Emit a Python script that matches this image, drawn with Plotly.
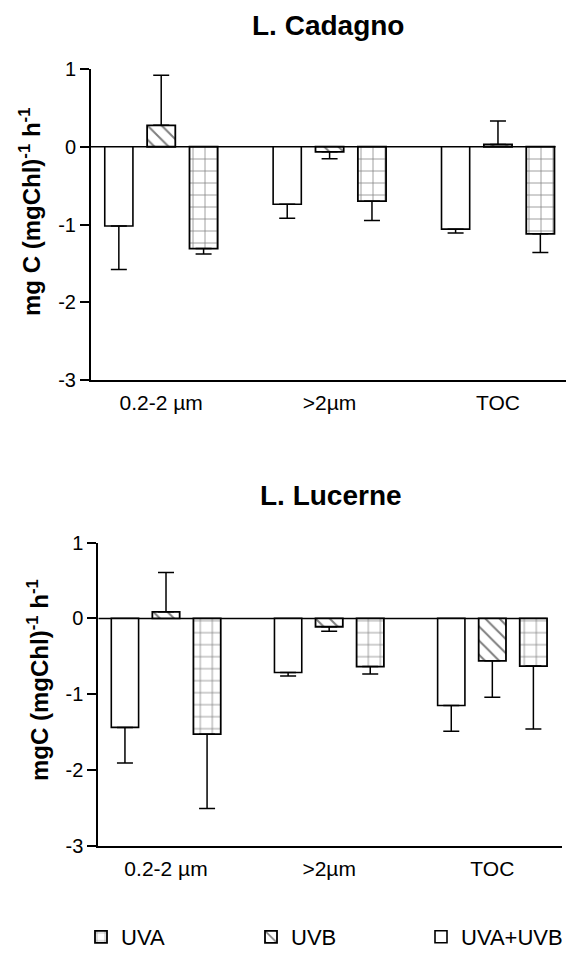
import plotly.graph_objects as go

# ---------------- data ----------------
categories = ["0.2-2 µm", ">2µm", "TOC"]
series_names = ["UVA+UVB", "UVB", "UVA"]

# L. Cadagno
cad_uvab = [-1.02, -0.74, -1.06]
cad_uvab_err = [0.56, 0.18, 0.05]
cad_uvb = [0.275, -0.065, 0.03]
cad_uvb_err = [0.645, 0.09, 0.30]
cad_uva = [-1.31, -0.70, -1.12]
cad_uva_err = [0.07, 0.25, 0.24]

# L. Lucerne
luc_uvab = [-1.44, -0.715, -1.15]
luc_uvab_err = [0.47, 0.045, 0.34]
luc_uvb = [0.087, -0.11, -0.56]
luc_uvb_err = [0.52, 0.06, 0.48]
luc_uva = [-1.53, -0.636, -0.63]
luc_uva_err = [0.98, 0.10, 0.83]

ytick_vals = [1, 0, -1, -2, -3]
ytick_text = ["1", "0", "-1", "-2", "-3"]

panel_titles = ["L. Cadagno", "L. Lucerne"]
y_titles = ["mg C (mgChl)<sup>-1</sup> h<sup>-1</sup>",
            "mgC (mgChl)<sup>-1</sup> h<sup>-1</sup>"]

# ---------------- geometry helpers (page has an 8px body margin) ----------------
W, H, OFF = 576, 953, 8


def px(x):
    return (x - OFF) / W


def py(y):
    return 1 - (y - OFF) / H


# ---------------- styles ----------------
FONT = "Liberation Sans, Arial, sans-serif"
styles = {
    "UVA+UVB": dict(color="white", line=dict(color="black", width=1.6)),
    "UVB": dict(color="white", line=dict(color="black", width=1.8),
                pattern=dict(shape="\\", fgcolor="black", bgcolor="white",
                             size=10, solidity=0.2)),
    "UVA": dict(color="white", line=dict(color="black", width=1.8),
                pattern=dict(shape="+", fgcolor="black", bgcolor="white",
                             size=12, solidity=0.12)),
}
legend_ids = {"UVA": "legend", "UVB": "legend2", "UVA+UVB": "legend3"}
legend_x = {"legend": px(81), "legend2": px(251), "legend3": px(421)}


def one_sided(vals, errs):
    plus = [e if v > 0 else 0 for v, e in zip(vals, errs)]
    minus = [e if v <= 0 else 0 for v, e in zip(vals, errs)]
    return plus, minus


panels = [
    [(cad_uvab, cad_uvab_err), (cad_uvb, cad_uvb_err), (cad_uva, cad_uva_err)],
    [(luc_uvab, luc_uvab_err), (luc_uvb, luc_uvb_err), (luc_uva, luc_uva_err)],
]

fig = go.Figure()
for p, series in enumerate(panels):
    xa = "x" if p == 0 else "x2"
    ya = "y" if p == 0 else "y2"
    for name, (vals, errs) in zip(series_names, series):
        plus, minus = one_sided(vals, errs)
        fig.add_trace(go.Bar(
            x=categories, y=vals, name=name, xaxis=xa, yaxis=ya,
            marker=styles[name], legendgroup=name, showlegend=(p == 0),
            legend=legend_ids[name],
            error_y=dict(type="data", symmetric=False, array=plus,
                         arrayminus=minus, color="black", thickness=1.5,
                         width=8),
        ))

# ---------------- layout ----------------
x_ranges = [[-0.417, 2.404], [-0.415, 2.427]]
zero_ends = [2.342, 2.333]

axis_common_x = dict(type="category", showline=True, linecolor="black",
                     linewidth=2, ticks="", showgrid=False, zeroline=False,
                     tickfont=dict(family=FONT, size=21, color="black"),
                     ticklabelstandoff=3, fixedrange=True)
axis_common_y = dict(range=[-3, 1], showline=True, linecolor="black",
                     linewidth=2, ticks="outside", ticklen=9, tickwidth=1.5,
                     tickcolor="black", showgrid=False, zeroline=False,
                     tickvals=ytick_vals, ticktext=ytick_text,
                     tickfont=dict(family=FONT, size=20, color="black"),
                     fixedrange=True)

legend_common = dict(orientation="h", xanchor="left", y=py(937),
                     yanchor="middle", bgcolor="rgba(0,0,0,0)",
                     font=dict(family=FONT, size=22, color="black"))

fig.update_layout(
    width=W, height=H,
    margin=dict(l=0, r=0, t=0, b=0, autoexpand=False),
    paper_bgcolor="white", plot_bgcolor="white",
    barmode="group", bargap=0.245, bargroupgap=0.335,
    font=dict(family=FONT, color="black"),
    xaxis=dict(axis_common_x, domain=[px(91), px(566)], range=x_ranges[0],
               anchor="y"),
    yaxis=dict(axis_common_y, domain=[py(380), py(69)], anchor="x"),
    xaxis2=dict(axis_common_x, domain=[px(98.3), px(562)], range=x_ranges[1],
                anchor="y2"),
    yaxis2=dict(axis_common_y, domain=[py(845.5), py(542.7)], anchor="x2"),
    legend=dict(legend_common, x=legend_x["legend"]),
    legend2=dict(legend_common, x=legend_x["legend2"]),
    legend3=dict(legend_common, x=legend_x["legend3"]),
    showlegend=True,
)

for p in range(2):
    xr = "x" if p == 0 else "x2"
    yr = "y" if p == 0 else "y2"
    fig.add_shape(type="line", xref=xr, yref=yr, x0=x_ranges[p][0],
                  x1=zero_ends[p], y0=0, y1=0,
                  line=dict(color="black", width=1.5), layer="below")

# panel titles
fig.add_annotation(text=panel_titles[0], x=px(328), y=1.0, xref="paper",
                   yref="paper", xanchor="center", yanchor="top",
                   showarrow=False,
                   font=dict(family=FONT, size=28, weight="bold", color="black"))
fig.add_annotation(text=panel_titles[1], x=px(331), y=py(496), xref="paper",
                   yref="paper", xanchor="center", yanchor="middle",
                   showarrow=False,
                   font=dict(family=FONT, size=28, weight="bold", color="black"))

# y-axis titles
ytitle_pos = [(px(30), py(212)), (px(38), py(680))]
for t, (tx, ty) in zip(y_titles, ytitle_pos):
    fig.add_annotation(text=t, x=tx, y=ty, xref="paper", yref="paper",
                       xanchor="center", yanchor="middle", showarrow=False,
                       textangle=-90,
                       font=dict(family=FONT, size=24, weight="bold",
                                 color="black"))

fig.write_html("out.html")
